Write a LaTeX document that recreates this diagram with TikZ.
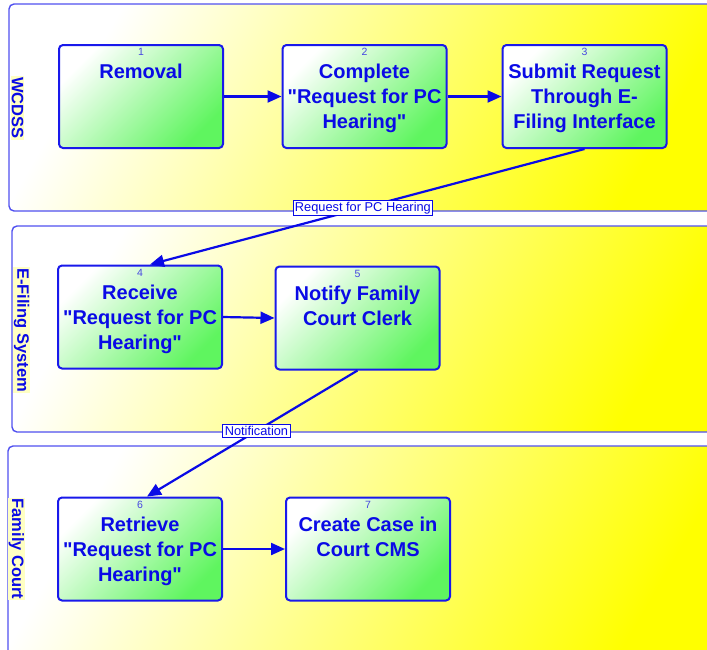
\documentclass[tikz,border=0pt]{standalone}
\usepackage{fontspec}
\setmainfont{Liberation Sans}
\usetikzlibrary{arrows.meta}
\definecolor{inkblue}{RGB}{10,10,230}
\definecolor{numblue}{RGB}{70,70,225}
\definecolor{laneline}{RGB}{80,80,240}
\definecolor{boxline}{RGB}{25,25,235}
\definecolor{boxgreen}{RGB}{95,245,95}
\definecolor{laneyellow}{RGB}{255,255,0}
\definecolor{tagfill}{RGB}{255,255,195}
\begin{document}
\begin{tikzpicture}[x=1pt,y=-1pt,
  lanebox/.style={draw=laneline,line width=1.4pt,rounded corners=5pt,
    left color=white,right color=laneyellow,shading angle=60},
  lanetag/.style={rotate=-90,fill=tagfill,text=inkblue,inner sep=1pt,
    font=\bfseries\fontsize{16.5}{18}\selectfont},
  stepbox/.style={draw=boxline,line width=2pt,rounded corners=4pt,
    left color=white,right color=boxgreen,shading angle=45,
    minimum width=164pt,minimum height=103pt,inner sep=0pt},
  stepnum/.style={text=numblue,inner sep=0pt,font=\fontsize{10.5}{11}\selectfont},
  steptext/.style={anchor=north,align=center,text=inkblue,inner sep=0pt,
    font=\bfseries\fontsize{20}{25}\selectfont},
  flow/.style={draw=inkblue,line width=2.2pt,-{Triangle[length=14pt,width=12pt]}},
  flowtag/.style={fill=white,draw=inkblue,line width=0.8pt,text=inkblue,
    inner sep=2pt,font=\fontsize{12.8}{14}\selectfont}]
\useasboundingbox (0,0) rectangle (707,649);

% swim lanes
\path[lanebox] (9,4) rectangle (730,211);
\path[lanebox] (12,226) rectangle (730,432);
\path[lanebox] (8,446) rectangle (730,662);
\node[lanetag] (t1) at (17.5,108) {WCDSS};
\node[lanetag] (t2) at (21.5,330) {E-Filing System};
\node[lanetag] (t3) at (16.5,549) {Family Court};

% process steps
\node[stepbox] (b1) at (141,96.5) {};
\node[stepbox] (b2) at (364.5,96.5) {};
\node[stepbox] (b3) at (584.5,96.5) {};
\node[stepbox] (b4) at (140,317) {};
\node[stepbox] (b5) at (357.5,318) {};
\node[stepbox] (b6) at (140,549) {};
\node[stepbox] (b7) at (368,549) {};

\foreach \b/\n in {b1/1,b2/2,b3/3,b4/4,b5/5,b6/6,b7/7}
  \node[stepnum] at ([yshift=-8pt]\b.north) {\n};

\node[steptext] at ([yshift=-20pt]b1.north) {Removal};
\node[steptext] at ([yshift=-20pt]b2.north) {Complete\\\textquotedbl Request for PC\\Hearing\textquotedbl};
\node[steptext] at ([yshift=-20pt]b3.north) {Submit Request\\Through E-\\Filing Interface};
\node[steptext] at ([yshift=-20pt]b4.north) {Receive\\\textquotedbl Request for PC\\Hearing\textquotedbl};
\node[steptext] at ([yshift=-20pt]b5.north) {Notify Family\\Court Clerk};
\node[steptext] at ([yshift=-20pt]b6.north) {Retrieve\\\textquotedbl Request for PC\\Hearing\textquotedbl};
\node[steptext] at ([yshift=-20pt]b7.north) {Create Case in\\Court CMS};

% connectors
\draw[flow] (b1.east) -- (b2.west);
\draw[flow] (b2.east) -- (b3.west);
\draw[flow] (b4.east) -- (b5.west);
\draw[flow] (b6.east) -- (b7.west);
\draw[flow] (b3.south) -- node[flowtag,pos=0.51] {Request for PC Hearing} ([xshift=10pt]b4.north);
\draw[flow] (b5.south) -- node[flowtag,pos=0.48] {Notification} ([xshift=7pt]b6.north);
\end{tikzpicture}
\end{document}
